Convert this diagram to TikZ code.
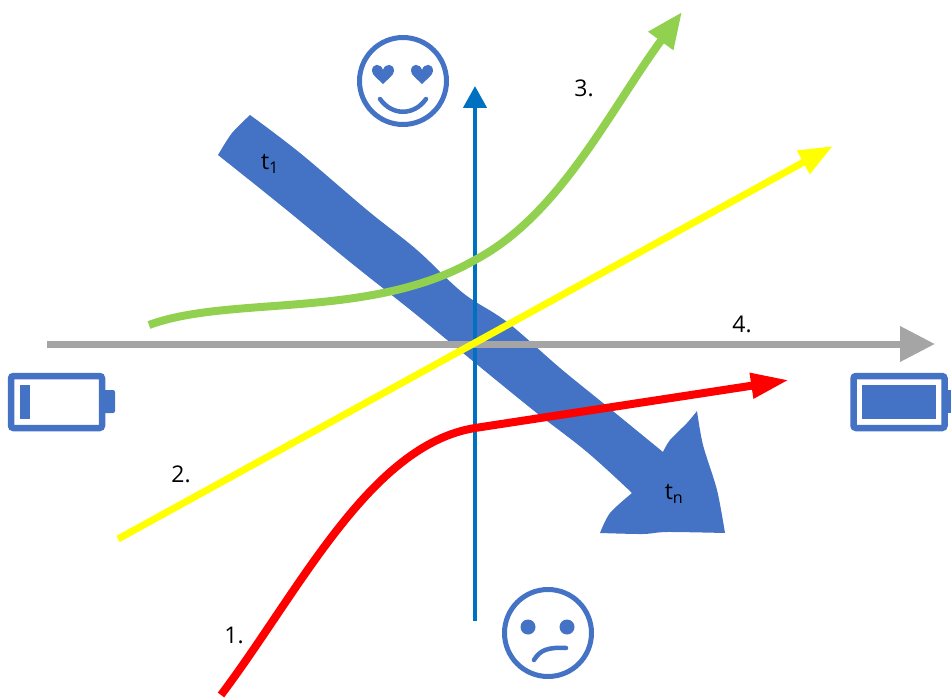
\documentclass[tikz,border=0pt]{standalone}
\usepackage{fontspec}
\setmainfont{Open Sans}
\usetikzlibrary{arrows.meta}
\definecolor{BandBlue}{HTML}{4472C4}
\definecolor{AxisBlue}{HTML}{0070C0}
\definecolor{CurveGreen}{HTML}{92D050}
\definecolor{CurveYellow}{HTML}{FFFF00}
\definecolor{CurveRed}{HTML}{FF0000}
\definecolor{AxisGray}{HTML}{A5A5A5}
\begin{document}
\begin{tikzpicture}[x=1pt,y=-1pt]
    \tikzset{
      face/.style={circle,draw=BandBlue,line width=5pt,minimum size=87pt,inner sep=0pt},
      lbl/.style={font=\fontsize{23}{23}\selectfont,text=black,inner sep=0pt},
      batt/.style={draw=BandBlue,line width=6.5pt,rounded corners=2.5pt,minimum width=91pt,minimum height=52pt,inner sep=0pt},
      cell/.style={fill=BandBlue,inner sep=0pt,minimum height=34pt},
      stub/.style={fill=BandBlue,rounded corners=2pt,inner sep=0pt,minimum height=23pt},
      curve/.style={line width=7pt},
      thickcurve/.style={line width=8pt},
      mouth/.style={draw=BandBlue,line width=4.5pt,line cap=round},
      heart/.pic={\fill[BandBlue] (0,10) .. controls (-5,5) and (-11,1) .. (-11,-3)
        .. controls (-11,-11) and (-2,-11) .. (0,-4)
        .. controls (2,-11) and (11,-11) .. (11,-3)
        .. controls (11,1) and (5,5) .. (0,10) -- cycle;}
    }
    \useasboundingbox (0,0) rectangle (951,698);
    % wide band
    \fill[BandBlue] (250,115) -- plot[smooth,tension=.6] coordinates {(250,115) (300,153) (367,210) (417,250) (463,293) (507,322) (560,368) (603,403) (663,452)}
      -- plot[smooth,tension=.5] coordinates {(663,452) (670,440) (687,423) (697,411)}
      -- plot[smooth,tension=.5] coordinates {(697,411) (703,445) (717,490) (725,533)}
      -- plot[smooth,tension=.5] coordinates {(725,533) (667,532) (643,534) (600,533)}
      -- plot[smooth,tension=.5] coordinates {(600,533) (610,513) (632,493)}
      -- plot[smooth,tension=.6] coordinates {(632,493) (587,452) (533,410) (463,353) (413,312) (350,262) (283,207) (218,155)}
      -- plot[smooth,tension=.5] coordinates {(218,155) (232,133) (250,115)} -- cycle;
    \node[lbl] (tone) at (270,164) {t\textsubscript{1}};
    \node[lbl] (tlast) at (674,494) {t\textsubscript{n}};
    % axes
    \coordinate (axisbottom) at (475,621);
    \coordinate (axistop) at (475,86);
    \coordinate (axisleft) at (47,344);
    \coordinate (axisright) at (935,344);
    \draw[-{Triangle[length=22pt,width=23pt]},AxisBlue,line width=4.5pt] (axisbottom) -- (axistop);
    \draw[-{Triangle[length=35pt,width=34pt]},AxisGray,curve] (axisleft) -- (axisright);
    % curves
    \coordinate (yellowstart) at (118,539);
    \coordinate (yellowend) at (833,146);
    \draw[-{Triangle[length=34pt,width=25pt]},CurveYellow,curve] (yellowstart) -- (yellowend);
    \coordinate (greenstart) at (149,325);
    \coordinate (greenmid) at (475,260);
    \coordinate (greenend) at (682,12);
    \draw[-{Triangle[length=36pt,width=29pt]},CurveGreen,thickcurve] (greenstart) .. controls (230,295) and (370,320) .. (greenmid) .. controls (560,215) and (610,110) .. (greenend);
    \coordinate (redstart) at (221,695);
    \coordinate (redmid) at (475,428);
    \coordinate (redend) at (789,380);
    \draw[-{Triangle[length=38pt,width=24pt]},CurveRed,thickcurve] (redstart) .. controls (300,590) and (370,445) .. (redmid) -- (redend);
    % labels
    \node[lbl] (lblone) at (234,635) {1.};
    \node[lbl] (lbltwo) at (181,474) {2.};
    \node[lbl] (lblthree) at (584,88) {3.};
    \node[lbl] (lblfour) at (742,324) {4.};
    % faces
    \node[face] (happy) at (403,81) {};
    \pic at (383,74) {heart};
    \pic at (422,74) {heart};
    \draw[mouth] (380,99) .. controls (392,116) and (414,116) .. (426,99);
    \node[face] (sad) at (548,633) {};
    \fill[BandBlue] (528,627) circle (7.5);
    \fill[BandBlue] (567,627) circle (7.5);
    \draw[mouth] (534,660) .. controls (540,650) and (548,647) .. (566,648);
    % batteries
    \node[stub,minimum width=12pt] (lowstub) at (109,401.5) {};
    \node[batt] (lowbatt) at (56.5,402) {};
    \node[cell,minimum width=10pt] (lowcell) at (25,402) {};
    \node[stub,minimum width=6pt,rounded corners=0pt] (fullstub) at (948,401.5) {};
    \node[batt] (fullbatt) at (899,402) {};
    \node[cell,minimum width=74pt] (fullcell) at (899,402) {};
  \end{tikzpicture}
\end{document}
